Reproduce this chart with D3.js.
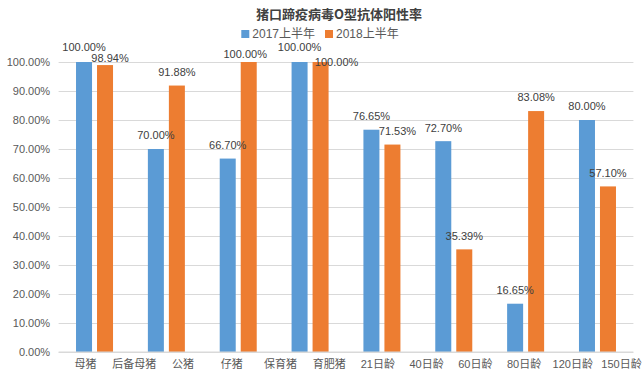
<!DOCTYPE html>
<html>
<head>
<meta charset="utf-8">
<script src="https://cdn.jsdelivr.net/npm/d3@7"></script>
<style>
  body { margin: 0; background: #fff; }
  text { font-family: "Liberation Sans", "Noto Sans CJK SC", sans-serif; }
</style>
</head>
<body>
<div id="chart"></div>
<script>
// chart size, plot area
const svgWidth = 642;
const svgHeight = 377;
const margin = { top: 62, right: 8.6, bottom: 25, left: 58.6 };
const width = svgWidth - margin.left - margin.right;
const height = svgHeight - margin.top - margin.bottom;

// data
const categories = ["母猪", "后备母猪", "公猪", "仔猪", "保育猪", "育肥猪", "21日龄", "40日龄", "60日龄", "80日龄", "120日龄", "150日龄"];
const seriesNames = ["2017上半年", "2018上半年"];
const values2017 = [100.00, 70.00, 66.70, 100.00, 76.65, 72.70, 16.65, 80.00];
const values2018 = [98.94, 91.88, 100.00, 100.00, 71.53, 35.39, 83.08, 57.10];
const yTicks = [0, 10, 20, 30, 40, 50, 60, 70, 80, 90, 100];
const colors = ["#5b9bd5", "#ed7d31"];

// the bars come in 8 pairs, the axis has 12 labels
const groups = d3.range(values2017.length);
const seriesValues = [values2017, values2018];

// some data labels were dragged around in the original
const labelNudge = [
    [[0, -1.5], [0, 0], [0, 0], [0, -1.5], [0, 0], [0, 0], [0, 0], [0, 0]],
    [[5, 6.5], [0, 0], [-3.5, 5.5], [16, 13.5], [5, 0], [0, 0], [0, 0], [0, 0]]
];

const svg = d3.select("#chart")
    .append("svg")
    .attr("width", svgWidth)
    .attr("height", svgHeight);

const g = svg.append("g")
    .attr("transform", `translate(${margin.left},${margin.top})`);

const y = d3.scaleLinear()
    .domain([0, 100])
    .range([height, 0]);

const x0 = d3.scaleBand()
    .domain(groups)
    .range([0, width])
    .paddingInner(0.485)
    .paddingOuter(0.2425);

const x1 = d3.scaleBand()
    .domain([0, 1])
    .range([0, x0.bandwidth()])
    .paddingInner(0.238);

// label positions don't line up with the bar pairs
const xLabel = d3.scalePoint()
    .domain(categories)
    .range([85 - margin.left, 621 - margin.left]);

// gridlines
g.append("g")
    .attr("class", "grid")
    .call(d3.axisLeft(y).tickValues(yTicks).tickSize(-width).tickFormat(""))
    .call(s => s.select(".domain").remove())
    .call(s => s.selectAll("line").attr("stroke", "#d9d9d9"));

// y axis labels
g.append("g")
    .attr("class", "axis axis-y")
    .call(d3.axisLeft(y).tickValues(yTicks).tickSize(0).tickPadding(8.5)
        .tickFormat(d => d.toFixed(2) + "%"))
    .call(s => s.select(".domain").remove())
    .call(s => s.selectAll("text").attr("fill", "#595959").attr("font-size", "11px")
        .attr("font-family", null));

// x axis labels
g.append("g")
    .attr("class", "axis axis-x")
    .attr("transform", `translate(0,${height})`)
    .call(d3.axisBottom(xLabel).tickSize(0).tickPadding(8))
    .call(s => s.select(".domain").remove())
    .call(s => s.selectAll("text").attr("fill", "#595959").attr("font-size", "11px")
        .attr("font-family", null));

// bars
const pairs = g.selectAll(".pair")
    .data(groups)
    .enter()
    .append("g")
    .attr("class", "pair")
    .attr("transform", d => `translate(${x0(d)},0)`);

pairs.selectAll("rect")
    .data(d => seriesValues.map((vals, s) => ({ s: s, g: d, v: vals[d] })))
    .enter()
    .append("rect")
    .attr("x", d => x1(d.s))
    .attr("y", d => y(d.v))
    .attr("width", x1.bandwidth())
    .attr("height", d => height - y(d.v))
    .attr("fill", d => colors[d.s]);

pairs.selectAll(".label")
    .data(d => seriesValues.map((vals, s) => ({ s: s, g: d, v: vals[d] })))
    .enter()
    .append("text")
    .attr("class", "label")
    .attr("x", d => x1(d.s) + x1.bandwidth() / 2 + labelNudge[d.s][d.g][0])
    .attr("y", d => y(d.v) - 13.5 + labelNudge[d.s][d.g][1])
    .attr("dy", "0.35em")
    .attr("text-anchor", "middle")
    .attr("font-size", "11px")
    .attr("fill", "#404040")
    .text(d => d.v.toFixed(2) + "%");

// baseline
g.append("line")
    .attr("x1", 0)
    .attr("x2", width)
    .attr("y1", height)
    .attr("y2", height)
    .attr("stroke", "#d9d9d9");

// title
svg.append("text")
    .attr("x", 339)
    .attr("y", 14)
    .attr("dy", "0.35em")
    .attr("text-anchor", "middle")
    .attr("font-size", "13px")
    .attr("font-weight", "bold")
    .attr("fill", "#404040")
    .style("font-family", "'Noto Sans CJK SC', sans-serif")
    .text("猪口蹄疫病毒O型抗体阳性率");

// legend
const legend = svg.append("g").attr("class", "legend");
let lx = 0;
seriesNames.forEach(function (name, i) {
    const item = legend.append("g").attr("transform", `translate(${lx},0)`);
    item.append("rect")
        .attr("x", 0)
        .attr("y", -4)
        .attr("width", 8)
        .attr("height", 8)
        .attr("fill", colors[i]);
    const t = item.append("text")
        .attr("x", 11)
        .attr("dy", "0.35em")
        .attr("font-size", "12px")
        .attr("fill", "#595959")
        .text(name);
    lx += 11 + t.node().getComputedTextLength() + 10;
});
legend.attr("transform", `translate(${320 - (lx - 10) / 2},34)`);
</script>
</body>
</html>
